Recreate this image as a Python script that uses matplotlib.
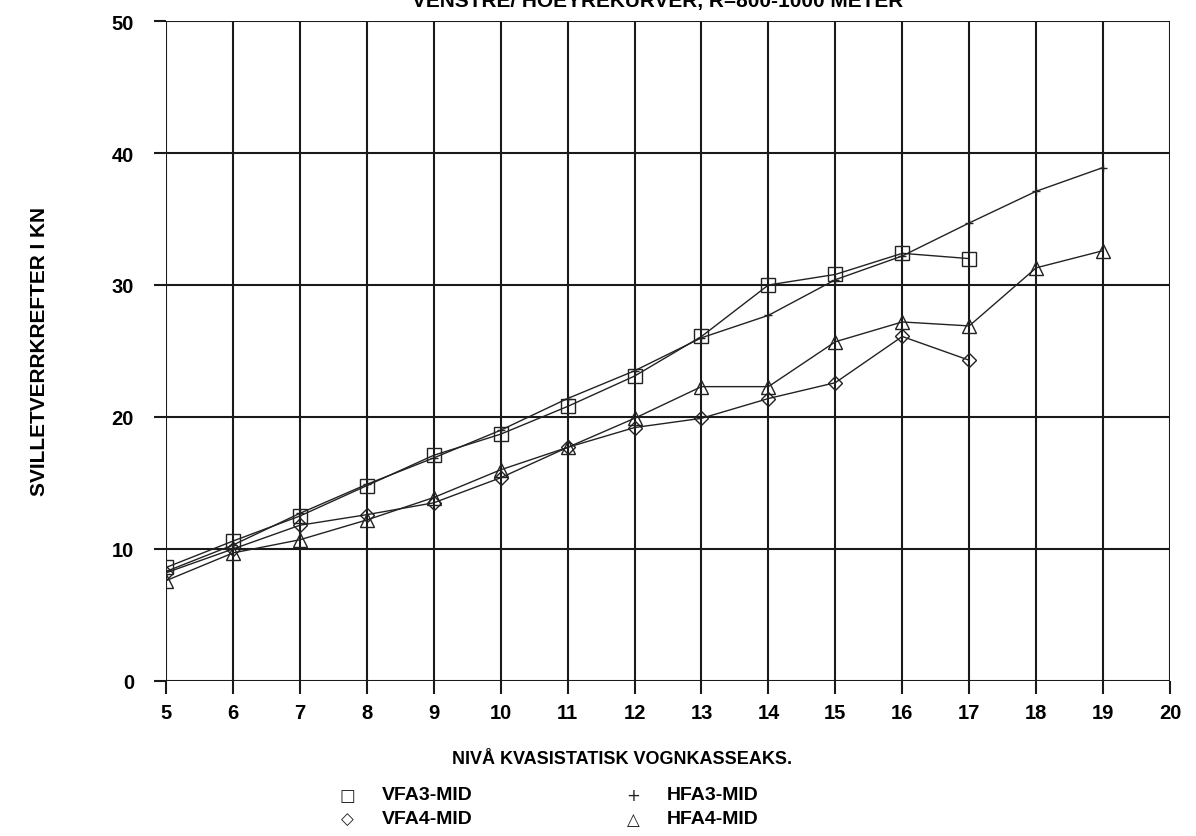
import matplotlib
matplotlib.use("Agg")
import matplotlib.pyplot as plt
from matplotlib import font_manager

# Measured sleeper forces per level of quasi-static car body acceleration
x_vfa = [5, 6, 7, 8, 9, 10, 11, 12, 13, 14, 15, 16, 17]
x_hfa = [5, 6, 7, 8, 9, 10, 11, 12, 13, 14, 15, 16, 17, 18, 19]

vfa3_mid = [8.6, 10.6, 12.5, 14.8, 17.1, 18.7, 20.8, 23.1, 26.1, 30.0, 30.8, 32.4, 32.0]
vfa4_mid = [8.2, 10.0, 11.8, 12.6, 13.5, 15.4, 17.7, 19.2, 19.9, 21.4, 22.6, 26.1, 24.3]
hfa3_mid = [8.3, 10.3, 12.7, 14.9, 16.9, 19.0, 21.4, 23.5, 26.0, 27.7, 30.4, 32.2, 34.7, 37.1, 38.9]
hfa4_mid = [7.6, 9.7, 10.7, 12.2, 13.9, 16.0, 17.7, 19.9, 22.3, 22.3, 25.7, 27.2, 26.9, 31.3, 32.6]

x_ticks = list(range(5, 21))
y_ticks = [0, 10, 20, 30, 40, 50]

title = "VENSTRE/ HOEYREKURVER, R=800-1000 METER"
x_label = "NIVÅ KVASISTATISK VOGNKASSEAKS."
y_label = "SVILLETVERRKREFTER I KN"
legend_items = [("□", "VFA3-MID"), ("+", "HFA3-MID"), ("◇", "VFA4-MID"), ("△", "HFA4-MID")]

installed = {f.name for f in font_manager.fontManager.ttflist}
narrow = "Liberation Sans Narrow" if "Liberation Sans Narrow" in installed else "Liberation Sans"
wide = "Liberation Sans"

fig = plt.figure(figsize=(11.96, 8.37), dpi=100)
ax = fig.add_axes([166 / 1196, 1 - 682 / 837, (1170 - 166) / 1196, (682 - 22) / 837])

line_kw = dict(color="#222222", linewidth=1.0, markerfacecolor="none",
               markeredgecolor="#222222", markeredgewidth=1.0)
ax.plot(x_vfa, vfa3_mid, marker="s", markersize=10.5, **line_kw)
ax.plot(x_vfa, vfa4_mid, marker="D", markersize=7, **line_kw)
ax.plot(x_hfa, hfa3_mid, marker="+", markersize=6, **line_kw)
ax.plot(x_hfa, hfa4_mid, marker="^", markersize=10.5, **line_kw)

ax.set_xlim(5, 20)
ax.set_ylim(0, 50)
ax.set_xticks(x_ticks)
ax.set_yticks(y_ticks)
ax.grid(True, color="#1a1a1a", linewidth=1.5)
ax.set_axisbelow(True)
for s in ax.spines.values():
    s.set_visible(False)
ax.tick_params(axis="both", direction="out", length=9, width=1.5, color="#1a1a1a",
               labelsize=14.5)
ax.tick_params(axis="y", pad=14)
ax.tick_params(axis="x", pad=7)
for lab in ax.get_xticklabels() + ax.get_yticklabels():
    lab.set_fontfamily(wide)
    lab.set_fontweight("bold")

fig.text(658 / 1196, 1 - 7 / 837, title, ha="center", va="baseline",
         fontsize=15, fontweight="bold", family=wide)
fig.text(40 / 1196, 1 - 352 / 837, y_label, rotation=90, ha="center", va="center",
         fontsize=15, fontweight="bold", family=narrow)
fig.text(622 / 1196, 1 - 760 / 837, x_label, ha="center", va="center",
         fontsize=13, fontweight="bold", family=narrow)

sym_x = [347, 633]
txt_x = [382, 667]
row_y = [796, 820]
for i, (sym, name) in enumerate(legend_items):
    col, row = i % 2, i // 2
    fig.text(sym_x[col] / 1196, 1 - row_y[row] / 837, sym, ha="center", va="center",
             fontsize=12, family="DejaVu Sans", color="#222222")
    fig.text(txt_x[col] / 1196, 1 - row_y[row] / 837, name, ha="left", va="center",
             fontsize=14, fontweight="bold", family=narrow)

fig.savefig("out.png", dpi=100, facecolor="white")
